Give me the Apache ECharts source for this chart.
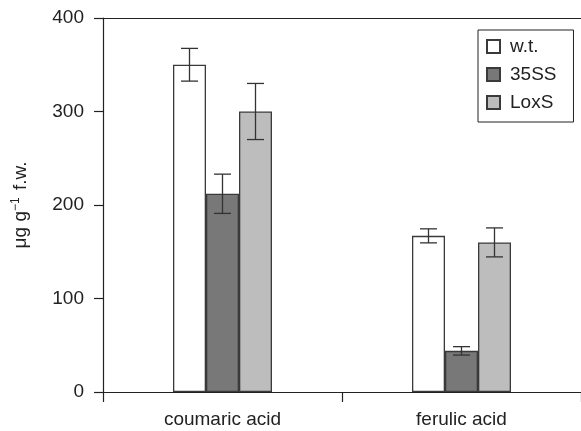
<!DOCTYPE html>
<html>
<head>
<meta charset="utf-8">
<script src="https://cdn.jsdelivr.net/npm/echarts@6/dist/echarts.min.js"></script>
<style>html,body{margin:0;padding:0;background:#fff}#c{width:581px;height:431px}</style>
</head>
<body>
<div id="c"></div>
<script>
const categories = ['coumaric acid', 'ferulic acid'];
const seriesNames = ['w.t.', '35SS', 'LoxS'];
const wtValues = [350, 167];
const wtErrors = [17.5, 7.5];
const ssValues = [212, 44];
const ssErrors = [21, 4.5];
const loxValues = [300, 160];
const loxErrors = [30, 15.5];
const yTicks = [0, 100, 200, 300, 400];

const colors = ['#ffffff', '#787878', '#bcbdbc'];
const values = [wtValues, ssValues, loxValues];
const errors = [wtErrors, ssErrors, loxErrors];
const BW = 33;

const chart = echarts.init(document.getElementById('c'));
const barSeries = seriesNames.map((n, i) => ({
  name: n, type: 'bar', data: values[i], barWidth: BW, barGap: '0%',
  itemStyle: { color: colors[i], borderColor: '#3a3a3a', borderWidth: 1.3 },
  emphasis: { disabled: true }, animation: false
}));
const errData = [];
values.forEach((vals, s) => vals.forEach((v, c) => errData.push([c, v, errors[s][c], s])));
const errSeries = {
  type: 'custom', data: errData, encode: { x: 0, y: 1 }, z: 10, animation: false,
  renderItem: function (params, api) {
    const c = api.value(0), v = api.value(1), e = api.value(2), s = api.value(3);
    const off = (s - 1) * BW;
    const top = api.coord([c, v + e]);
    const bot = api.coord([c, v - e]);
    const x = top[0] + off;
    const hw = 8.5;
    const st = { stroke: '#333', lineWidth: 1.3 };
    return { type: 'group', children: [
      { type: 'line', shape: { x1: x, y1: top[1], x2: x, y2: bot[1] }, style: st },
      { type: 'line', shape: { x1: x - hw, y1: top[1], x2: x + hw, y2: top[1] }, style: st },
      { type: 'line', shape: { x1: x - hw, y1: bot[1], x2: x + hw, y2: bot[1] }, style: st }
    ]};
  }
};

chart.setOption({
  animation: false,
  textStyle: { fontFamily: 'Liberation Sans, Arial, sans-serif' },
  grid: { left: 103, top: 18, bottom: 39, right: -7, containLabel: false },
  legend: {
    data: seriesNames, orient: 'vertical', left: 478, top: 30,
    width: 95, itemWidth: 13, itemHeight: 13, itemGap: 9, icon: 'rect',
    padding: [7, 17, 10, 8], borderColor: '#222', borderWidth: 1,
    textStyle: { fontSize: 19, color: '#222', padding: [0, 0, 0, 5] },
    selectedMode: false
  },
  xAxis: [{
    type: 'category', data: categories,
    axisLine: { lineStyle: { color: '#222', width: 1.2 } },
    axisTick: { show: true, length: 10, lineStyle: { color: '#222', width: 1.2 } },
    axisLabel: { fontSize: 19, color: '#222', margin: 18 }
  }, {
    type: 'value', position: 'top', min: 0, max: 1,
    axisLine: { show: true, lineStyle: { color: '#222', width: 1.2 } },
    axisTick: { show: false }, axisLabel: { show: false }, splitLine: { show: false }
  }],
  yAxis: {
    type: 'value', min: yTicks[0], max: yTicks[yTicks.length - 1], interval: 100,
    name: 'μg g{sup|−1} f.w.', nameLocation: 'middle', nameRotate: 90, nameGap: 71,
    nameTextStyle: { fontSize: 19, color: '#222', rich: { sup: { fontSize: 12, verticalAlign: 'top', padding: [0, 2, 10, 0], color: '#222' } } },
    axisLine: { show: true, lineStyle: { color: '#222', width: 1.2 } },
    axisTick: { show: true, length: 9, lineStyle: { color: '#222', width: 1.2 } },
    axisLabel: { fontSize: 19, color: '#222', margin: 19 },
    splitLine: { show: false }
  },
  series: [...barSeries, errSeries]
});
</script>
</body>
</html>
